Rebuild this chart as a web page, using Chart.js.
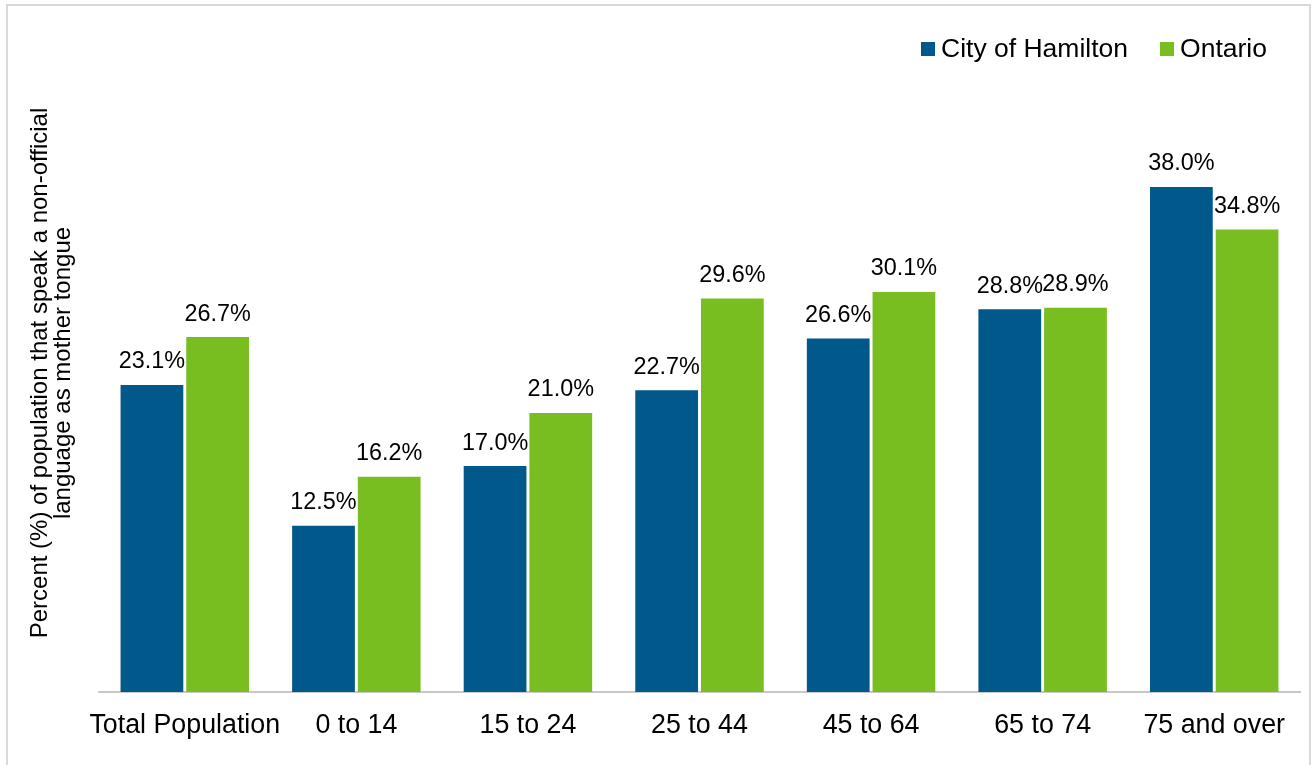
<!DOCTYPE html>
<html>
<head>
<meta charset="utf-8">
<script src="https://cdn.jsdelivr.net/npm/chart.js@4.4.1/dist/chart.umd.min.js"></script>
<style>
  html, body { margin: 0; padding: 0; background: #ffffff; }
  body { width: 1312px; height: 765px; position: relative; overflow: hidden; font-family: "Liberation Sans", Arial, sans-serif; }
  #frame { position: absolute; left: 6px; top: 4px; width: 1305px; height: 800px; border: 2px solid #d9d9d9; box-sizing: border-box; }
  #wrap { position: absolute; left: 0; top: 0; width: 1312px; height: 765px; }
  #legend { position: absolute; left: 921px; top: 35px; display: flex; align-items: center; font-size: 26.5px; line-height: 26px; color: #000; white-space: nowrap; }
  .item { display: flex; align-items: center; margin-right: 32px; }
  .item:last-child { margin-right: 0; }
  .box { width: 14px; height: 14px; margin-right: 6px; position: relative; top: 1px; }
</style>
</head>
<body>
<div id="frame"></div>
<div id="wrap"><canvas id="c" width="1312" height="765"></canvas></div>
<div id="legend"></div>
<script>
const categories = ["Total Population", "0 to 14", "15 to 24", "25 to 44", "45 to 64", "65 to 74", "75 and over"];
const hamilton = [23.1, 12.5, 17.0, 22.7, 26.6, 28.8, 38.0];
const ontario = [26.7, 16.2, 21.0, 29.6, 30.1, 28.9, 34.8];
const seriesNames = ["City of Hamilton", "Ontario"];
const seriesColors = ["#00588b", "#78be21"];
const yTitle = ["Percent (%) of population that speak a non-official", "language as mother tongue"];

const FONT = "'Liberation Sans', Arial, sans-serif";

const valueLabels = {
  id: 'valueLabels',
  afterDatasetsDraw(chart) {
    const ctx = chart.ctx;
    ctx.save();
    ctx.font = "23.4px " + FONT;
    ctx.fillStyle = "#000";
    ctx.textAlign = "center";
    ctx.textBaseline = "alphabetic";
    chart.data.datasets.forEach((ds, di) => {
      const meta = chart.getDatasetMeta(di);
      meta.data.forEach((bar, i) => {
        ctx.fillText(ds.data[i].toFixed(1) + "%", bar.x, bar.y - 16.5);
      });
    });
    ctx.restore();
  }
};

const chart = new Chart(document.getElementById('c'), {
  type: 'bar',
  data: {
    labels: categories,
    datasets: [
      { label: seriesNames[0], data: hamilton, backgroundColor: seriesColors[0] },
      { label: seriesNames[1], data: ontario, backgroundColor: seriesColors[1] }
    ]
  },
  options: {
    responsive: false,
    animation: false,
    devicePixelRatio: 1,
    layout: { padding: { top: 54, right: 12, bottom: 0, left: 0 } },
    datasets: { bar: { categoryPercentage: 0.766, barPercentage: 0.955 } },
    plugins: { legend: { display: false }, tooltip: { enabled: false } },
    scales: {
      x: {
        grid: { display: false, drawTicks: false },
        border: { display: true, color: "#c8c8c8", width: 2 },
        ticks: { color: "#000", font: { family: FONT, size: 26.8 }, padding: 18, maxRotation: 0, autoSkip: false },
        afterFit(scale) { scale.height = 73; }
      },
      y: {
        min: 0, max: 48,
        grid: { display: false, drawTicks: false },
        border: { display: false },
        ticks: { display: false },
        title: { display: true, text: yTitle, color: "#000", font: { family: FONT, size: 24, lineHeight: 0.95 }, padding: { top: 29, bottom: 0 } },
        afterFit(scale) { scale.width = 99; }
      }
    }
  },
  plugins: [valueLabels]
});

const legend = document.getElementById('legend');
chart.data.datasets.forEach(ds => {
  const item = document.createElement('div');
  item.className = 'item';
  const box = document.createElement('span');
  box.className = 'box';
  box.style.background = ds.backgroundColor;
  const txt = document.createElement('span');
  txt.textContent = ds.label;
  item.appendChild(box);
  item.appendChild(txt);
  legend.appendChild(item);
});
</script>
</body>
</html>
